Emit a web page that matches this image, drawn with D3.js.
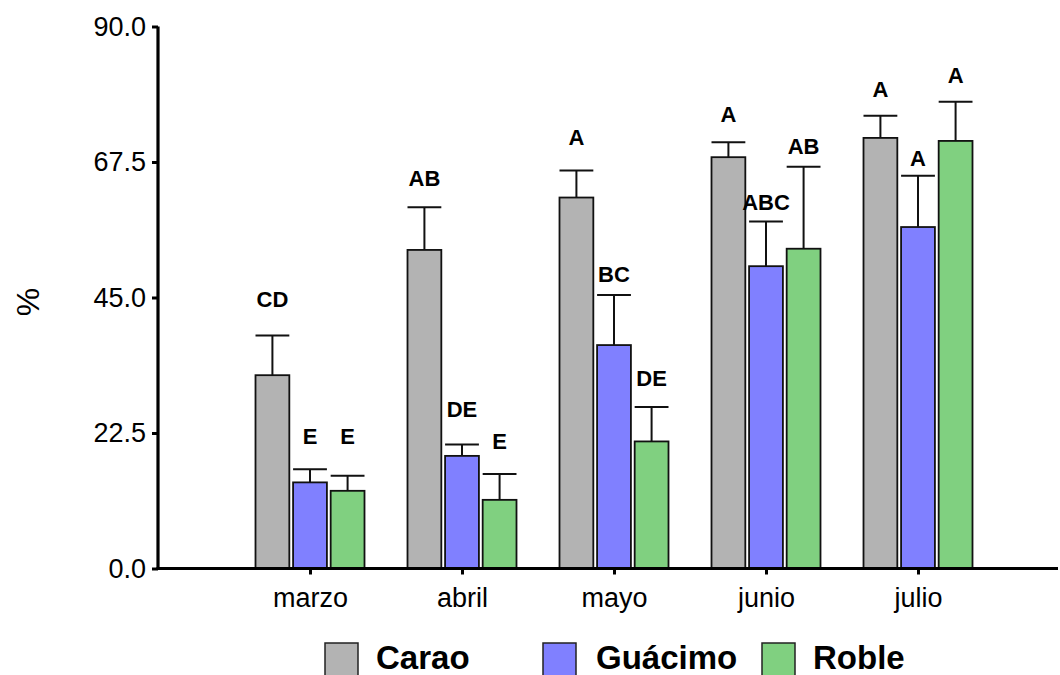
<!DOCTYPE html>
<html>
<head>
<meta charset="utf-8">
<script src="https://cdn.jsdelivr.net/npm/d3@7"></script>
<style>
  body { margin: 0; background: #fff; }
  svg { display: block; font-family: "Liberation Sans", Arial, sans-serif; }
</style>
</head>
<body>
<div id="chart"></div>
<script>
const width = 1060;
const height = 675;

// data
const months = ["marzo", "abril", "mayo", "junio", "julio"];
const species = ["Carao", "Guácimo", "Roble"];
const carao   = [32.1, 52.9, 61.6, 68.3, 71.5];
const guacimo = [14.3, 18.7, 37.1, 50.2, 56.7];
const roble   = [12.9, 11.4, 21.1, 53.1, 71.0];
const caraoErr   = [6.6, 7.1, 4.5, 2.5, 3.7];
const guacimoErr = [2.2, 1.9, 8.3, 7.4, 8.5];
const robleErr   = [2.5, 4.3, 5.7, 13.6, 6.5];
// significance letters and the level (in %) where each one sits
const caraoLetters   = ["CD", "AB", "A", "A", "A"];
const guacimoLetters = ["E", "DE", "BC", "ABC", "A"];
const robleLetters   = ["E", "E", "DE", "AB", "A"];
const caraoLetterAt   = [43.5, 63.5, 70.3, 74.2, 78.3];
const guacimoLetterAt = [20.7, 25.2, 47.6, 59.5, 66.8];
const robleLetterAt   = [20.7, 19.8, 30.3, 68.8, 80.7];
const yTicks = [0, 22.5, 45, 67.5, 90];

const colors = ["#b3b3b3", "#8080ff", "#80d080"];

// rows: one per bar
const series = [
  {vals: carao, err: caraoErr, letters: caraoLetters, at: caraoLetterAt},
  {vals: guacimo, err: guacimoErr, letters: guacimoLetters, at: guacimoLetterAt},
  {vals: roble, err: robleErr, letters: robleLetters, at: robleLetterAt}
];
const rows = [];
months.forEach((m, i) => {
  series.forEach((s, j) => {
    rows.push({month: m, sp: species[j], v: s.vals[i], e: s.err[i], letter: s.letters[i], at: s.at[i]});
  });
});

const svg = d3.select("#chart").append("svg")
    .attr("width", width)
    .attr("height", height);

const x = d3.scalePoint()
    .domain(months)
    .range([310, 918]);

const xs = d3.scaleBand()
    .domain(species)
    .range([-54.5, 54.5])
    .paddingInner(0.1);

const y = d3.scaleLinear()
    .domain([0, 90])
    .range([568.5, 26.5]);

const color = d3.scaleOrdinal().domain(species).range(colors);

// bars
svg.append("g")
  .selectAll("rect")
  .data(rows)
  .join("rect")
    .attr("x", d => x(d.month) + xs(d.sp))
    .attr("y", d => y(d.v))
    .attr("width", xs.bandwidth())
    .attr("height", d => y(0) - y(d.v))
    .attr("fill", d => color(d.sp))
    .attr("stroke", "#111")
    .attr("stroke-width", 1.8);

// error bars (upper only)
const eb = svg.append("g")
    .attr("stroke", "#111")
    .attr("stroke-width", 2)
  .selectAll("g")
  .data(rows)
  .join("g");

eb.append("line")
    .attr("x1", d => x(d.month) + xs(d.sp) + xs.bandwidth() / 2)
    .attr("x2", d => x(d.month) + xs(d.sp) + xs.bandwidth() / 2)
    .attr("y1", d => y(d.v))
    .attr("y2", d => y(d.v + d.e));

eb.append("line")
    .attr("x1", d => x(d.month) + xs(d.sp))
    .attr("x2", d => x(d.month) + xs(d.sp) + xs.bandwidth())
    .attr("y1", d => y(d.v + d.e))
    .attr("y2", d => y(d.v + d.e));

// letters
svg.append("g")
    .attr("text-anchor", "middle")
    .style("font-size", "22px")
    .style("font-weight", "bold")
  .selectAll("text")
  .data(rows)
  .join("text")
    .attr("x", d => x(d.month) + xs(d.sp) + xs.bandwidth() / 2)
    .attr("y", d => y(d.at))
    .text(d => d.letter);

// y axis
svg.append("g")
    .attr("transform", "translate(158,0)")
    .call(d3.axisLeft(y).tickValues(yTicks).tickFormat(d3.format(".1f")).tickSize(6).tickPadding(6))
    .call(g => g.select(".domain").attr("stroke-width", 3.2).attr("d", `M0,${y(90)}V${y(0) + 1.5}`))
    .call(g => g.selectAll(".tick line").attr("stroke-width", 3))
    .call(g => g.selectAll(".tick text").style("font-size", "27px").style("font-family", "'Liberation Sans', Arial").attr("fill", "#000"));

// x axis
svg.append("g")
    .attr("transform", `translate(0,${y(0)})`)
    .call(d3.axisBottom(x).tickSize(6).tickPadding(13))
    .call(g => g.select(".domain").attr("stroke-width", 3.2).attr("d", `M156.5,0H1058`))
    .call(g => g.selectAll(".tick line").attr("stroke-width", 3))
    .call(g => g.selectAll(".tick text").style("font-size", "27px").style("font-family", "'Liberation Sans', Arial").attr("fill", "#000"));

// y title
svg.append("text")
    .attr("transform", "translate(39,302) rotate(-90)")
    .attr("text-anchor", "middle")
    .style("font-size", "32px")
    .text("%");

// legend
const legendX = [325, 543, 762];
const lg = svg.append("g")
  .selectAll("g")
  .data(species)
  .join("g")
    .attr("transform", (d, i) => `translate(${legendX[i]},643)`);

lg.append("rect")
    .attr("width", 33)
    .attr("height", 33)
    .attr("fill", d => color(d))
    .attr("stroke", "#222")
    .attr("stroke-width", 1.5);

lg.append("text")
    .attr("x", (d, i) => i === 1 ? 53 : 51)
    .attr("y", 26)
    .style("font-size", "33px")
    .style("font-weight", "bold")
    .text(d => d);
</script>
</body>
</html>
